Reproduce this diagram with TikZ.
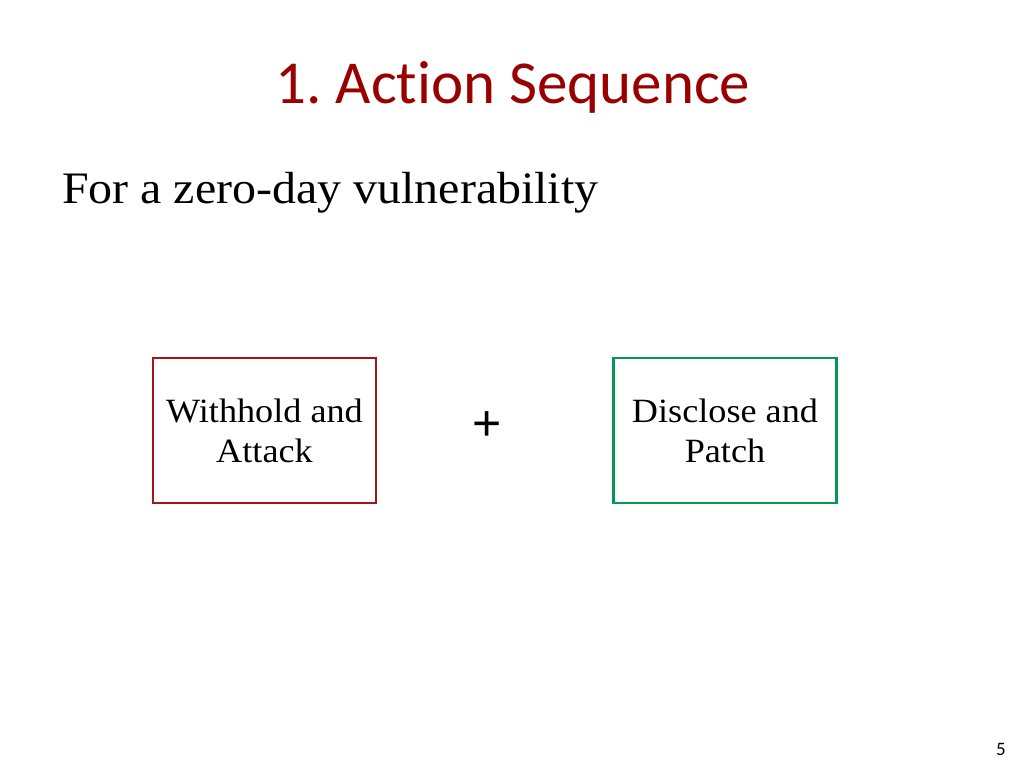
\documentclass[tikz,border=0pt]{standalone}
\usepackage{fontspec}
\setmainfont[FakeStretch=1.065]{Liberation Serif}
\newfontfamily\titlefont[Ligatures={NoCommon}]{Carlito}
\newfontfamily\plusfont{Liberation Sans}
\definecolor{titlered}{RGB}{153,0,0}
\definecolor{boxred}{RGB}{165,20,25}
\definecolor{boxgreen}{RGB}{0,155,80}
\frenchspacing
\begin{document}
\begin{tikzpicture}[x=1pt,y=-1pt,
  actbox/.style={draw,line width=2.8pt,minimum width=223pt,minimum height=145pt,
    inner sep=0pt,align=center,font=\fontsize{34}{40}\selectfont},
  txt/.style={inner sep=0pt}]
\useasboundingbox[fill=white] (0,0) rectangle (1024,768);
\node[txt,anchor=base,text=titlered,font=\titlefont\fontsize{61}{70}\selectfont] (title) at (513,103) {1. Action Sequence};
\node[txt,anchor=base west,font=\fontsize{45}{54}\selectfont] (sub) at (62,203) {For a zero-day vulnerability};
\node[actbox,draw=boxred] (wa) at (264.5,430.5) {Withhold and\\Attack};
\node[actbox,draw=boxgreen] (dp) at (725,430.5) {Disclose and\\Patch};
\node[txt,font=\plusfont\fontsize{50}{52}\selectfont] (plus) at (487.5,426) {+};
\node[txt,anchor=base,font=\titlefont\fontsize{19}{22}\selectfont] (pg) at (1001,755) {5};
\end{tikzpicture}
\end{document}
